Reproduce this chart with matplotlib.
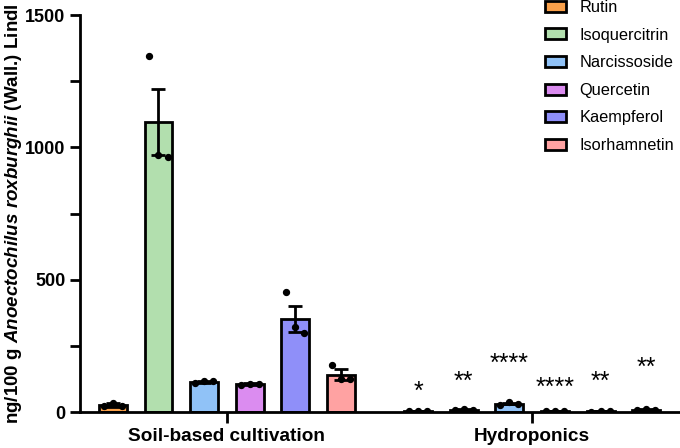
import numpy as np
import matplotlib.pyplot as plt
from matplotlib.ticker import MultipleLocator

plt.rcParams['font.family'] = ['Liberation Sans', 'DejaVu Sans']
plt.rcParams['mathtext.fontset'] = 'custom'
plt.rcParams['mathtext.it'] = 'Liberation Sans:italic:bold'

compounds = ['Rutin', 'Isoquercitrin', 'Narcissoside', 'Quercetin', 'Kaempferol', 'Isorhamnetin']
colors = ['#F9A04A', '#B2DFAE', '#90C2F7', '#DB8CF0', '#8F8FF9', '#FFA2A2']
groups = ['Soil-based cultivation', 'Hydroponics']

soil_mean = [27, 1095, 115, 106, 352, 142]
soil_sem = [6, 125, 3, 3, 50, 22]
soil_pts = [[22, 36, 25], [1345, 970, 965], [112, 118, 116], [103, 108, 107],
            [452, 320, 300], [180, 125, 125]]

hydro_mean = [3, 9, 32, 3, 3, 10]
hydro_sem = [0.5, 1.5, 3, 0.5, 0.5, 1.5]
hydro_pts = [[3, 3, 3], [8, 12, 8], [28, 38, 30], [3, 3, 3], [2, 4, 3], [8, 12, 9]]
hydro_stars = ['*', '**', '****', '****', '**', '**']
star_y = [78, 116, 183, 90, 116, 168]

fig = plt.figure(figsize=(6.8, 4.48), dpi=100)
ax = fig.add_axes([0.1176, 0.080, 0.8824, 0.8865])

offset = 6.69
w = 0.61
for i in range(6):
    for g, (mean, sem, pts) in enumerate([(soil_mean, soil_sem, soil_pts),
                                           (hydro_mean, hydro_sem, hydro_pts)]):
        x = i + g * offset
        ax.bar(x, mean[i], width=w, color=colors[i], edgecolor='black', linewidth=2,
               label=compounds[i] if g == 0 else None, zorder=2)
        ax.errorbar(x, mean[i], yerr=sem[i], color='black', capsize=5, capthick=2,
                    elinewidth=2, zorder=3)
        ax.scatter(np.array([-0.2, 0, 0.2]) + x, pts[i], s=18, color='black', zorder=4)
    ax.text(i + offset, star_y[i], hydro_stars[i], ha='center', va='center', fontsize=18)

ax.set_xlim(-0.72, 12.43)
ax.set_ylim(0, 1500)
ax.yaxis.set_major_locator(MultipleLocator(500))
ax.yaxis.set_minor_locator(MultipleLocator(250))
ax.set_xticks([2.5, 2.5 + offset])
ax.set_xticklabels(groups, fontsize=13.7, fontweight='bold')
for lab in ax.get_yticklabels():
    lab.set_fontweight('bold')
ax.tick_params(axis='y', labelsize=13, width=2, length=7)
ax.tick_params(axis='y', which='minor', width=2, length=7)
ax.tick_params(axis='x', width=2, length=8)
for s in ['top', 'right']:
    ax.spines[s].set_visible(False)
for s in ['left', 'bottom']:
    ax.spines[s].set_linewidth(2)

ax.set_ylabel('ng/100 g $\\it{Anoectochilus\\ roxburghii}$ (Wall.) Lindl',
              fontsize=13.5, fontweight='bold', labelpad=1)

ax.legend(loc='upper left', bbox_to_anchor=(545 / 680, 1.0), bbox_transform=fig.transFigure,
          frameon=False, fontsize=11.8, borderpad=0, borderaxespad=0,
          handlelength=1.3, handleheight=0.65, labelspacing=0.77, handletextpad=0.8)

fig.savefig('out.png', dpi=100)
